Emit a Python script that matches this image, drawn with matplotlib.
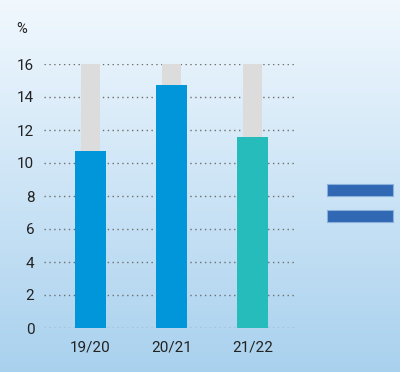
import numpy as np
import matplotlib
matplotlib.use("Agg")
import matplotlib.pyplot as plt
from matplotlib.patches import Rectangle

plt.rcParams['font.family'] = ['Roboto', 'DejaVu Sans']

seasons = ['19/20', '20/21', '21/22']
values = [10.7, 14.7, 11.6]
bar_colors = ['#0096d9', '#0096d9', '#26bcbc']
track_max = 16
y_ticks = [0, 2, 4, 6, 8, 10, 12, 14, 16]

fig = plt.figure(figsize=(4.0, 3.72), dpi=100)

# background gradient
bg = fig.add_axes((0, 0, 1, 1), zorder=0)
grad = np.linspace(0, 1, 256).reshape(-1, 1)
top = np.array([0.945, 0.973, 0.996])
bot = np.array([0.663, 0.820, 0.933])
img = top + (bot - top) * grad[:, :, None]
bg.imshow(img, aspect='auto', extent=[0, 1, 0, 1])
bg.set_xlim(0, 1)
bg.set_ylim(0, 1)
bg.axis('off')

ax = fig.add_axes((0.11, 1 - 328 / 372, 0.7425 - 0.11, (328 - 64) / 372), zorder=1)
ax.patch.set_alpha(0)
x = np.arange(len(seasons))
ax.bar(x, [track_max] * len(x), width=0.235, color='#dcdcdc', zorder=2)
ax.bar(x, values, width=0.383, color=bar_colors, zorder=3)

ax.set_xlim(-0.574, 2.549)
ax.set_ylim(0, 16)
ax.set_yticks(y_ticks)
ax.set_xticks(x)
ax.set_xticklabels(seasons)
ax.yaxis.grid(True, linestyle=(0, (1, 2.5)), color='#6e6e6e', linewidth=1.0, zorder=1)
ax.set_axisbelow(True)
for s in ax.spines.values():
    s.set_visible(False)
ax.tick_params(axis='both', length=0, labelsize=11, colors='#222222')
ax.tick_params(axis='y', pad=7)
ax.tick_params(axis='x', pad=9)

fig.text(22 / 400, 1 - 29 / 372, '%', fontsize=10.5, color='#222222', ha='center', va='center')

# equals-like buttons on the right
for ytop in [183.5, 210]:
    fig.patches.append(Rectangle((327 / 400, 1 - (ytop + 12) / 372), 66 / 400, 12 / 372,
                                 transform=fig.transFigure, facecolor='#3068b4',
                                 edgecolor='#8bb0dc', linewidth=0.8, zorder=5))

fig.savefig('out.png', dpi=100)
